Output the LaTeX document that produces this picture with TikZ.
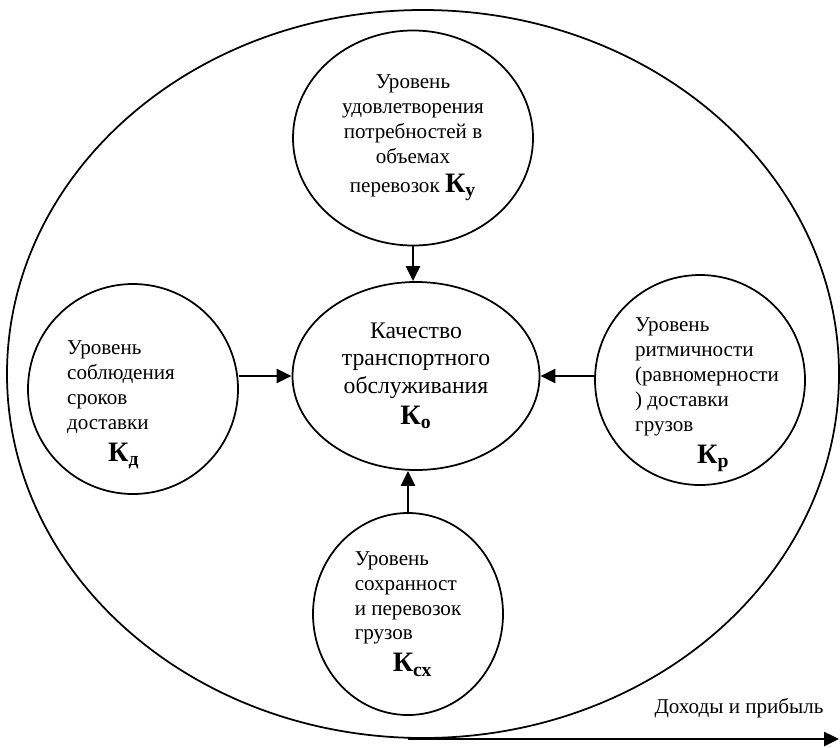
\documentclass[tikz,border=0pt]{standalone}
\usepackage{fontspec}
\setmainfont{Liberation Serif}
\usetikzlibrary{arrows.meta,shapes.geometric}

\newcommand{\kidx}[1]{{\fontsize{16}{16}\selectfont\textbf{К\textsubscript{#1}}}}

\begin{document}
\begin{tikzpicture}[
  x=0.2mm, y=-0.2mm,
  font=\fontsize{12}{14.2}\selectfont,
  lvl/.style  = {draw, ellipse, line width=0.35mm, inner sep=0pt, align=left},
  txt/.style  = {inner sep=0pt, align=left},
  core/.style = {draw, ellipse, line width=0.35mm, inner sep=0pt, align=center,
                 font=\fontsize{13.5}{15.6}\selectfont},
  ring/.style = {draw, ellipse, line width=0.35mm, inner sep=0pt,
                 minimum width=166.4mm, minimum height=145.6mm},
  flow/.style = {-{Triangle[length=3mm,width=2.8mm]}, line width=0.5mm},
]

\useasboundingbox (0,0) rectangle (840,747);

%% ==== outer ring, drawn first =============================================
\node[ring] (env) at (423,374) {};

%% ==== central node ========================================================
\node[core, minimum width=49.4mm, minimum height=37.6mm] (ko) at (416,376)
  {Качество\\транспортного\\обслуживания\\[2pt]\kidx{о}};

%% ==== the four levels round it ============================================
\node[lvl, align=center, minimum width=48mm, minimum height=43mm] (ky)
  at (413,138)
  {Уровень\\удовлетворения\\потребностей в\\объемах\\[2pt]перевозок \kidx{у}};
\node[lvl, minimum width=38mm, minimum height=40.4mm] (ksx) at (408,614)
  {Уровень\\сохранност\\и перевозок\\грузов\\[4pt]\hspace*{7.6mm}\kidx{сх}};

% side circles: their text sits off centre, so it is set on its own
\node[lvl, minimum width=42mm, minimum height=42mm] (kd) at (133,389) {};
\node[txt] (kdtext) at ([shift={(-12,16)}]kd.center)
  {Уровень\\соблюдения\\сроков\\доставки\\[4pt]\hspace*{8.2mm}\kidx{д}};
\node[lvl, minimum width=42mm, minimum height=42mm] (kr) at (700,380) {};
\node[txt] (krtext) at ([shift={(7,15)}]kr.center)
  {Уровень\\ритмичности\\(равномерности\\) доставки\\грузов\\[4pt]%
   \hspace*{12.4mm}\kidx{р}};

%% ==== arrows into the centre ==============================================
\draw[flow] (ky.south) -- (ky.south|-ko.north);
\draw[flow] (ksx.north) -- (ksx.north|-ko.south);
\draw[flow] (kd.east|-ko.west) -- (ko.west);
\draw[flow] (kr.west|-ko.east) -- (ko.east);

%% ==== income arrow under the ring =========================================
\coordinate (inc0) at (408,739);
\coordinate (inc1) at (839,739);
\draw[flow] (inc0) -- (inc1);
\node[anchor=base] (inclbl) at (739,713) {Доходы и прибыль};

\end{tikzpicture}
\end{document}
